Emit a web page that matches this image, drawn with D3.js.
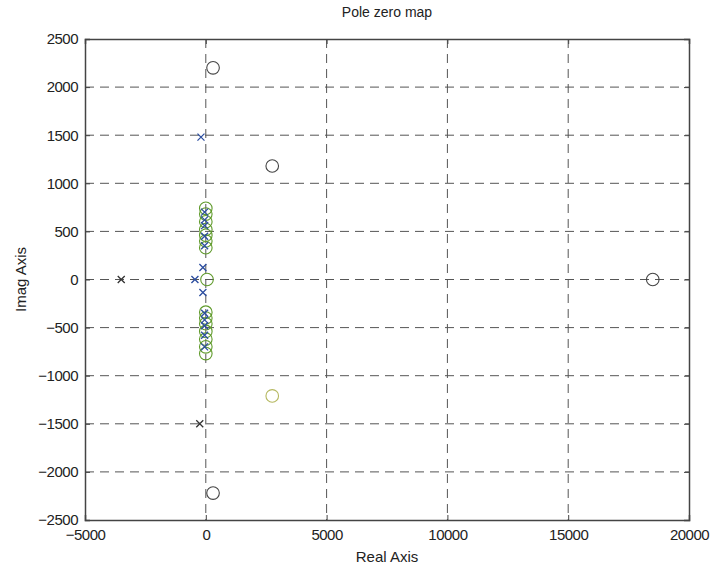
<!DOCTYPE html>
<html><head><meta charset="utf-8">
<script src="https://cdn.jsdelivr.net/npm/d3@7"></script>
<style>
body{margin:0;background:#fff;}
text{font-family:"Liberation Sans",Arial,Helvetica,sans-serif;}
</style></head>
<body><svg id="c" width="713" height="570"></svg>
<script>
// Data (real, imag)
const bluePolesRe = [-200, -50, -50, -50, -50, -50, -120, -450, -120, -50, -50, -50, -50, -50];
const bluePolesIm = [1480, 700, 620, 560, 450, 350, 125, 0, -135, -350, -420, -480, -580, -700];
const blackPolesRe = [-3500, -250];
const blackPolesIm = [0, -1500];
const greenZerosRe = [0, 0, 0, 0, 0, 0, 0, 50, 0, 0, 0, 0, 0, 0, 0];
const greenZerosIm = [740, 680, 600, 520, 460, 400, 330, 0, -340, -400, -460, -540, -620, -700, -770];
const blackZerosRe = [300, 2750, 18500, 300];
const blackZerosIm = [2200, 1180, 0, -2220];
const yellowZerosRe = [2750];
const yellowZerosIm = [-1210];
const xTicks = [-5000, 0, 5000, 10000, 15000, 20000];
const yTicks = [-2500, -2000, -1500, -1000, -500, 0, 500, 1000, 1500, 2000, 2500];

const svg = d3.select("#c");
const L = 85, R = 689, T = 39, B = 520;
const x = d3.scaleLinear().domain([-5000, 20000]).range([L, R]);
const y = d3.scaleLinear().domain([-2500, 2500]).range([B, T]);

// grid
const g = svg.append("g");
g.selectAll(".gx").data(xTicks.slice(1, -1)).enter().append("line")
  .attr("x1", d => x(d)).attr("x2", d => x(d)).attr("y1", T).attr("y2", B)
  .attr("stroke", "#555").attr("stroke-width", 1).attr("stroke-dasharray", "9,6");
g.selectAll(".gy").data(yTicks.slice(1, -1)).enter().append("line")
  .attr("y1", d => y(d)).attr("y2", d => y(d)).attr("x1", L).attr("x2", R)
  .attr("stroke", "#555").attr("stroke-width", 1).attr("stroke-dasharray", "9,6");

// axes
const xAxB = d3.axisBottom(x).tickValues(xTicks).tickSize(-5).tickPadding(9).tickFormat(d3.format("d"));
const xAxT = d3.axisTop(x).tickValues(xTicks).tickSize(-5).tickFormat("");
const yAxL = d3.axisLeft(y).tickValues(yTicks).tickSize(-5).tickPadding(7).tickFormat(d3.format("d"));
const yAxR = d3.axisRight(y).tickValues(yTicks).tickSize(-5).tickFormat("");
function style(sel){
  sel.selectAll("path").attr("stroke","#444").attr("stroke-width",1.5);
  sel.selectAll("line").attr("stroke","#444");
  sel.selectAll("text").attr("font-size",15).attr("fill","#222").attr("letter-spacing","-0.5")
     .attr("font-family","'Liberation Sans',Arial,sans-serif");
}
svg.append("g").attr("transform",`translate(0,${B})`).call(xAxB).call(style);
svg.append("g").attr("transform",`translate(0,${T})`).call(xAxT).call(style);
svg.append("g").attr("transform",`translate(${L},0)`).call(yAxL).call(style);
svg.append("g").attr("transform",`translate(${R},0)`).call(yAxR).call(style);

// labels
svg.append("text").attr("x",(L+R)/2).attr("y",17).attr("text-anchor","middle")
  .attr("font-size",14).attr("fill","#222").text("Pole zero map");
svg.append("text").attr("x",(L+R)/2).attr("y",562).attr("text-anchor","middle")
  .attr("font-size",15).attr("fill","#222").text("Real Axis");
svg.append("text").attr("transform",`translate(26,${(T+B)/2}) rotate(-90)`).attr("text-anchor","middle")
  .attr("font-size",15).attr("fill","#222").text("Imag Axis");

// markers
function circles(re, im, color){
  svg.append("g").selectAll("circle").data(re.map((r,i)=>[r,im[i]])).enter().append("circle")
    .attr("cx", d => x(d[0])).attr("cy", d => y(d[1])).attr("r", 6.3)
    .attr("fill","none").attr("stroke",color).attr("stroke-width",1.1);
}
function crosses(re, im, color){
  const s = 3.5;
  svg.append("g").selectAll("path").data(re.map((r,i)=>[r,im[i]])).enter().append("path")
    .attr("d", d => {const cx=x(d[0]), cy=y(d[1]);
      return `M${cx-s},${cy-s}L${cx+s},${cy+s}M${cx-s},${cy+s}L${cx+s},${cy-s}`;})
    .attr("stroke",color).attr("stroke-width",1.3).attr("fill","none");
}
circles(greenZerosRe, greenZerosIm, "#5f9a2a");
circles(blackZerosRe, blackZerosIm, "#444");
circles(yellowZerosRe, yellowZerosIm, "#b5b860");
crosses(bluePolesRe, bluePolesIm, "#2c4ea0");
crosses(blackPolesRe, blackPolesIm, "#333");
</script></body></html>
